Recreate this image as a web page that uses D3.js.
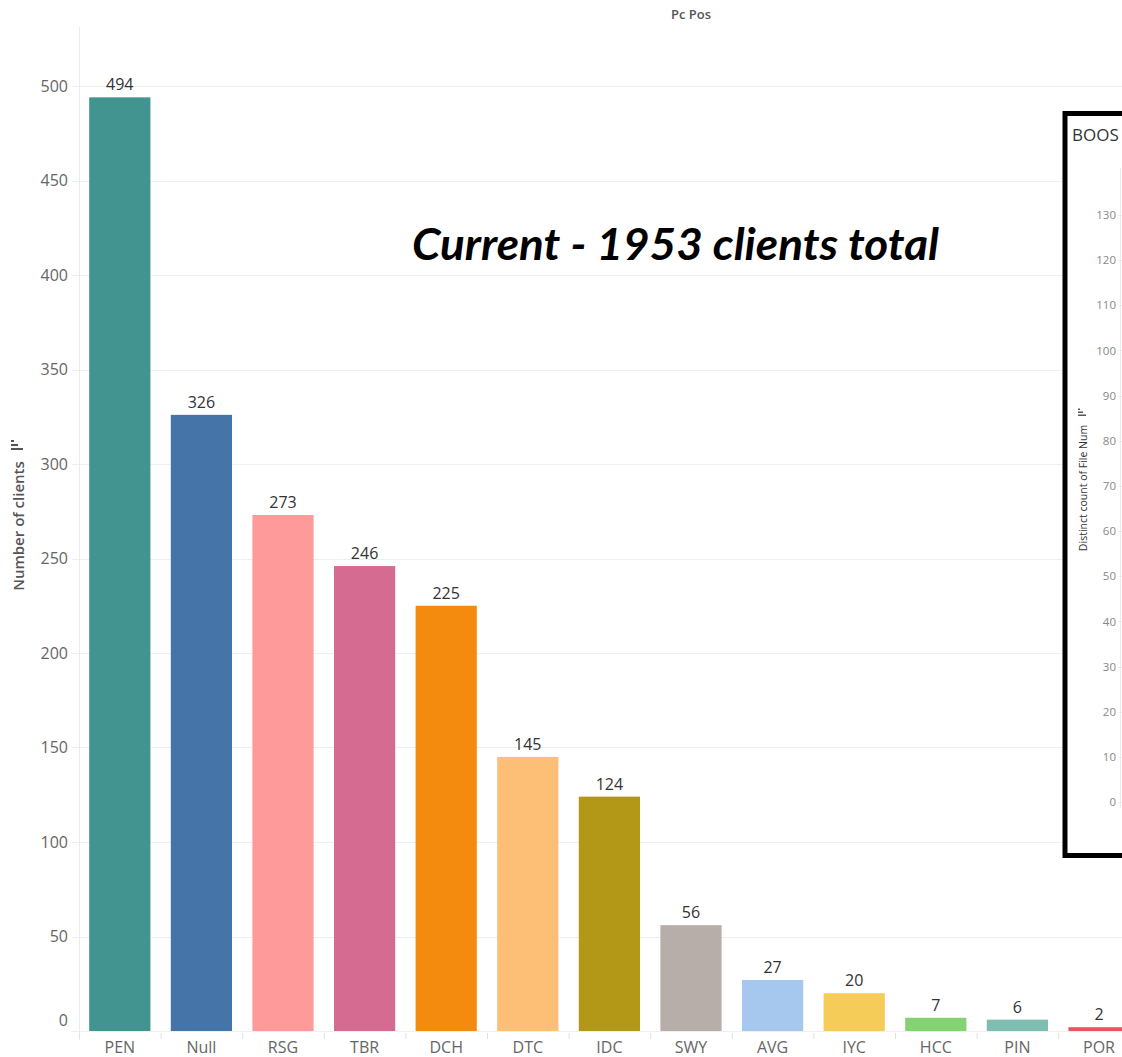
<!DOCTYPE html>
<html>
<head>
<meta charset="utf-8">
<script src="https://cdn.jsdelivr.net/npm/d3@7"></script>
<style>
  html, body { margin: 0; padding: 0; background: #fff; overflow: hidden; }
  svg { display: block; }
</style>
</head>
<body>
<div id="chart"></div>
<script>
// Clients per position
const categories = ["PEN", "Null", "RSG", "TBR", "DCH", "DTC", "IDC", "SWY", "AVG", "IYC", "HCC", "PIN", "POR"];
const clients = [494, 326, 273, 246, 225, 145, 124, 56, 27, 20, 7, 6, 2];
const barColors = ["#419490", "#4575a8", "#fe9a99", "#d56b90", "#f58b0e", "#fdbf76", "#b39817",
                   "#b8aea9", "#a6c8ee", "#f5cc57", "#85d273", "#7fbdb3", "#e8555a"];
const yTicks = [0, 50, 100, 150, 200, 250, 300, 350, 400, 450, 500];
// Side panel axis ticks
const insetTicks = [0, 10, 20, 30, 40, 50, 60, 70, 80, 90, 100, 110, 120, 130];

const W = 1122, H = 1057;
const svg = d3.select("#chart").append("svg").attr("width", W).attr("height", H);
const font = "'Open Sans', 'Noto Sans', sans-serif";

const x = d3.scaleBand().domain(categories).range([79, 79 + 81.6 * categories.length])
  .paddingInner(0.25).paddingOuter(0.125);
const y = d3.scaleLinear().domain([0, 500]).range([1031, 86]);

// Title
svg.append("text").attr("x", 691).attr("y", 19).attr("text-anchor", "middle")
  .attr("font-family", font).attr("font-size", 13).attr("font-weight", 600)
  .attr("fill", "#555").text("Pc Pos");

// Gridlines
const grid = svg.append("g");
grid.selectAll("line").data(yTicks).join("line")
  .attr("x1", 72).attr("x2", W).attr("y1", d => Math.round(y(d)) + 0.5).attr("y2", d => Math.round(y(d)) + 0.5)
  .attr("stroke", "#efefef").attr("stroke-width", 1.2);

// Y axis
const yAxis = svg.append("g").attr("transform", "translate(79,0)")
  .call(d3.axisLeft(y).tickValues(yTicks).tickSize(0).tickPadding(11));
yAxis.select(".domain").remove();
yAxis.selectAll("text").attr("font-family", font).attr("font-size", 16).attr("fill", "#666")
  .attr("dy", d => d === 0 ? "-0.37em" : "0.32em");
svg.append("line").attr("x1", 79.5).attr("x2", 79.5).attr("y1", 27).attr("y2", 1040)
  .attr("stroke", "#ececec").attr("stroke-width", 1);

// X axis
const xAxis = svg.append("g").attr("transform", "translate(0,1031)")
  .call(d3.axisBottom(x).tickSize(0).tickPadding(12));
xAxis.select(".domain").remove();
xAxis.selectAll("text").attr("font-family", font).attr("font-size", 16).attr("fill", "#666")
  .attr("dy", "0.6em");
const step = x.step();
svg.append("g").selectAll("line").data(d3.range(categories.length + 1)).join("line")
  .attr("x1", i => 79.5 + i * step).attr("x2", i => 79.5 + i * step)
  .attr("y1", 1033).attr("y2", 1039).attr("stroke", "#e2e2e2");

// Y axis title with sort glyph
const yt = svg.append("g").attr("transform", "translate(24,526) rotate(-90)");
yt.append("text").attr("text-anchor", "middle").attr("font-family", font)
  .attr("font-size", 15).attr("font-weight", 600).attr("fill", "#555").text("Number of clients");
yt.append("rect").attr("x", 76).attr("y", -13).attr("width", 2).attr("height", 12).attr("fill", "#555");
yt.append("rect").attr("x", 80).attr("y", -13).attr("width", 2).attr("height", 7).attr("fill", "#555");
yt.append("rect").attr("x", 84).attr("y", -13).attr("width", 2).attr("height", 3).attr("fill", "#555");

// Bars
svg.append("g").selectAll("rect").data(categories).join("rect")
  .attr("x", d => x(d)).attr("width", x.bandwidth())
  .attr("y", (d, i) => y(clients[i])).attr("height", (d, i) => y(0) - y(clients[i]))
  .attr("fill", (d, i) => barColors[i]);

// Value labels
svg.append("g").selectAll("text").data(categories).join("text")
  .attr("x", d => x(d) + x.bandwidth() / 2).attr("y", (d, i) => y(clients[i]) - 7)
  .attr("text-anchor", "middle").attr("font-family", font).attr("font-size", 16)
  .attr("fill", "#333").text((d, i) => clients[i]);

// Annotation
svg.append("text").attr("x", 412).attr("y", 260)
  .attr("font-family", "Lato, 'Open Sans', sans-serif").attr("font-size", 43)
  .attr("font-weight", 700).attr("font-style", "italic").attr("fill", "#000")
  .attr("textLength", 527).attr("lengthAdjust", "spacingAndGlyphs")
  .text("Current - 1953 clients total");

// Side panel
const inset = svg.append("g");
inset.append("rect").attr("x", 1065).attr("y", 113.5).attr("width", 80).attr("height", 742)
  .attr("fill", "#fff").attr("stroke", "#000").attr("stroke-width", 5);
inset.append("text").attr("x", 1072).attr("y", 141).attr("font-family", font)
  .attr("font-size", 17).attr("fill", "#333").text("BOOS");
const yi = d3.scaleLinear().domain([0, 130]).range([802, 215]);
const yiAxis = inset.append("g").attr("transform", "translate(1119,0)")
  .call(d3.axisLeft(yi).tickValues(insetTicks).tickSize(0).tickPadding(3));
yiAxis.select(".domain").remove();
yiAxis.selectAll("text").attr("font-family", font).attr("font-size", 11.5).attr("fill", "#888");
inset.append("g").selectAll("line").data(insetTicks).join("line")
  .attr("x1", 1118).attr("x2", W).attr("y1", d => Math.round(yi(d)) + 0.5).attr("y2", d => Math.round(yi(d)) + 0.5)
  .attr("stroke", "#f0f0f0");
inset.append("line").attr("x1", 1120.5).attr("x2", 1120.5).attr("y1", 168).attr("y2", 808)
  .attr("stroke", "#ececec");
const yit = inset.append("g").attr("transform", "translate(1087,488) rotate(-90)");
yit.append("text").attr("text-anchor", "middle").attr("font-family", font)
  .attr("font-size", 10.5).attr("fill", "#333").text("Distinct count of File Num");
yit.append("rect").attr("x", 72).attr("y", -9).attr("width", 1.5).attr("height", 8).attr("fill", "#555");
yit.append("rect").attr("x", 75).attr("y", -9).attr("width", 1.5).attr("height", 5).attr("fill", "#555");
yit.append("rect").attr("x", 78).attr("y", -9).attr("width", 1.5).attr("height", 2).attr("fill", "#555");
</script>
</body>
</html>
